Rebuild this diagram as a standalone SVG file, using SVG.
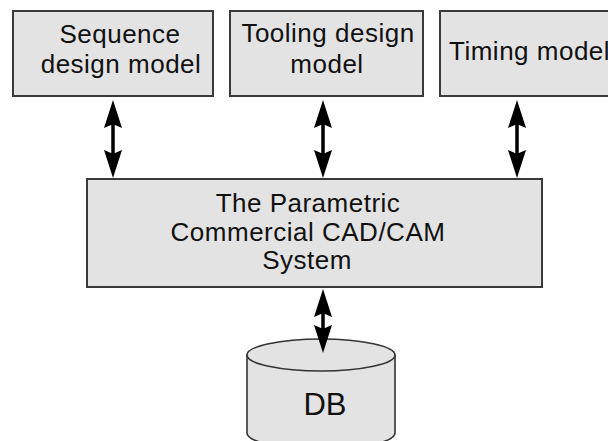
<svg xmlns="http://www.w3.org/2000/svg" width="608" height="441" viewBox="0 0 608 441">
  <defs>
    <style>
      .box { fill: #e3e3e3; stroke: #3a3a3a; stroke-width: 2; }
      .cyl { fill: #e3e3e3; stroke: #333; stroke-width: 1.6; }
      .lbl { font-family: "Liberation Sans", Arial, sans-serif; font-size: 26px; fill: #111; letter-spacing: 0.5px; }
      .db { font-family: "Liberation Sans", Arial, sans-serif; font-size: 31px; fill: #111; }
      .shaft { stroke: #000; stroke-width: 3.5; }
      .head { fill: #000; }
    </style>
    <g id="arrow2">
      <polygon class="head" points="0,0 -9,28 -2,25 2,25 9,28"/>
      <polygon class="head" points="0,78 -9,50 -2,53 2,53 9,50"/>
      <line class="shaft" x1="0" y1="20" x2="0" y2="58"/>
    </g>
  </defs>
  <rect width="608" height="441" fill="#fff"/>

  <g id="sequence">
    <rect class="box" x="13" y="11" width="200" height="85"/>
    <text class="lbl" x="120" y="42.5" text-anchor="middle">Sequence</text>
    <text class="lbl" x="121" y="73" text-anchor="middle">design model</text>
  </g>

  <g id="tooling">
    <rect class="box" x="230" y="11" width="193" height="85"/>
    <text class="lbl" x="328" y="42" text-anchor="middle">Tooling design</text>
    <text class="lbl" x="327" y="73" text-anchor="middle">model</text>
  </g>

  <g id="timing">
    <rect class="box" x="440" y="11" width="180" height="85"/>
    <text class="lbl" x="449" y="60">Timing model</text>
  </g>

  <g id="cadcam">
    <rect class="box" x="87" y="179" width="455" height="108"/>
    <text class="lbl" x="308" y="212" text-anchor="middle">The Parametric</text>
    <text class="lbl" x="308" y="240.5" text-anchor="middle">Commercial CAD/CAM</text>
    <text class="lbl" x="307" y="269" text-anchor="middle">System</text>
  </g>

  <g id="db">
    <path class="cyl" d="M247,355 L247,433 A74,16 0 0 0 395,433 L395,355"/>
    <ellipse class="cyl" cx="321" cy="355" rx="74" ry="16"/>
    <text class="db" x="325" y="415" text-anchor="middle">DB</text>
  </g>

  <g id="connectors">
    <use href="#arrow2" x="113" y="100"/>
    <use href="#arrow2" x="323" y="100"/>
    <use href="#arrow2" x="517" y="100"/>
    <g>
      <polygon class="head" points="323,289 314,317 321,314 325,314 332,317"/>
      <polygon class="head" points="323,353 314,325 321,328 325,328 332,325"/>
      <line class="shaft" x1="323" y1="309" x2="323" y2="333"/>
    </g>
  </g>
</svg>
